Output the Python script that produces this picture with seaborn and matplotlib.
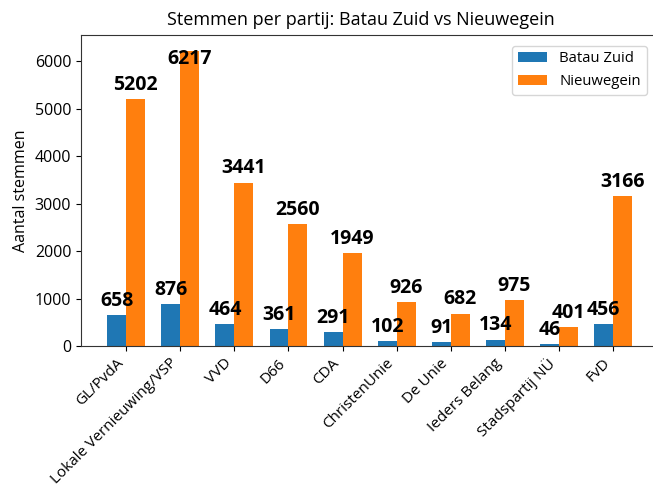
import matplotlib
matplotlib.use("Agg")
import matplotlib.pyplot as plt
import seaborn as sns
import pandas as pd

parties = ["GL/PvdA", "Lokale Vernieuwing/VSP", "VVD", "D66", "CDA",
           "ChristenUnie", "De Unie", "Ieders Belang", "Stadspartij NÜ", "FvD"]
batau_zuid = [658, 876, 464, 361, 291, 102, 91, 134, 46, 456]
nieuwegein = [5202, 6217, 3441, 2560, 1949, 926, 682, 975, 401, 3166]
series_names = ["Batau Zuid", "Nieuwegein"]
colors = ["#1f77b4", "#ff7f0e"]

plt.rcParams["font.family"] = ["Open Sans", "DejaVu Sans"]

df = pd.DataFrame({
    "Partij": parties * 2,
    "Stemmen": batau_zuid + nieuwegein,
    "Gebied": [series_names[0]] * len(parties) + [series_names[1]] * len(parties),
})

fig = plt.figure(figsize=(6.53, 4.87), dpi=100)
ax = fig.add_axes([81 / 653, (487 - 346) / 487, 0.884, (346 - 35) / 487])

sns.barplot(data=df, x="Partij", y="Stemmen", hue="Gebied", palette=colors,
            saturation=1, width=0.7, ax=ax, errorbar=None)

ymax = 6550
ax.set_xlim(-0.835, 9.835)
ax.set_ylim(0, ymax)

for cont, vals in zip(ax.containers, [batau_zuid, nieuwegein]):
    texts = ax.bar_label(cont, fmt="%d", padding=3, fontsize=14, fontweight="bold")
    for t, v in zip(texts, vals):
        if v > 0.92 * ymax:
            t.xyann = (0, -13)

ax.set_title("Stemmen per partij: Batau Zuid vs Nieuwegein", fontsize=13, pad=7, x=0.484)
ax.set_ylabel("Aantal stemmen", fontsize=11.5)
ax.set_xlabel("")
ax.tick_params(axis="x", labelsize=11)
ax.tick_params(axis="y", labelsize=11.5)
for s in ax.spines.values():
    s.set_color("#333333")
plt.setp(ax.get_xticklabels(), rotation=45, ha="right")
ax.legend(loc="upper right", bbox_to_anchor=(0.993, 0.99), fontsize=10.7, title=None)

fig.savefig("out.png", dpi=100)
